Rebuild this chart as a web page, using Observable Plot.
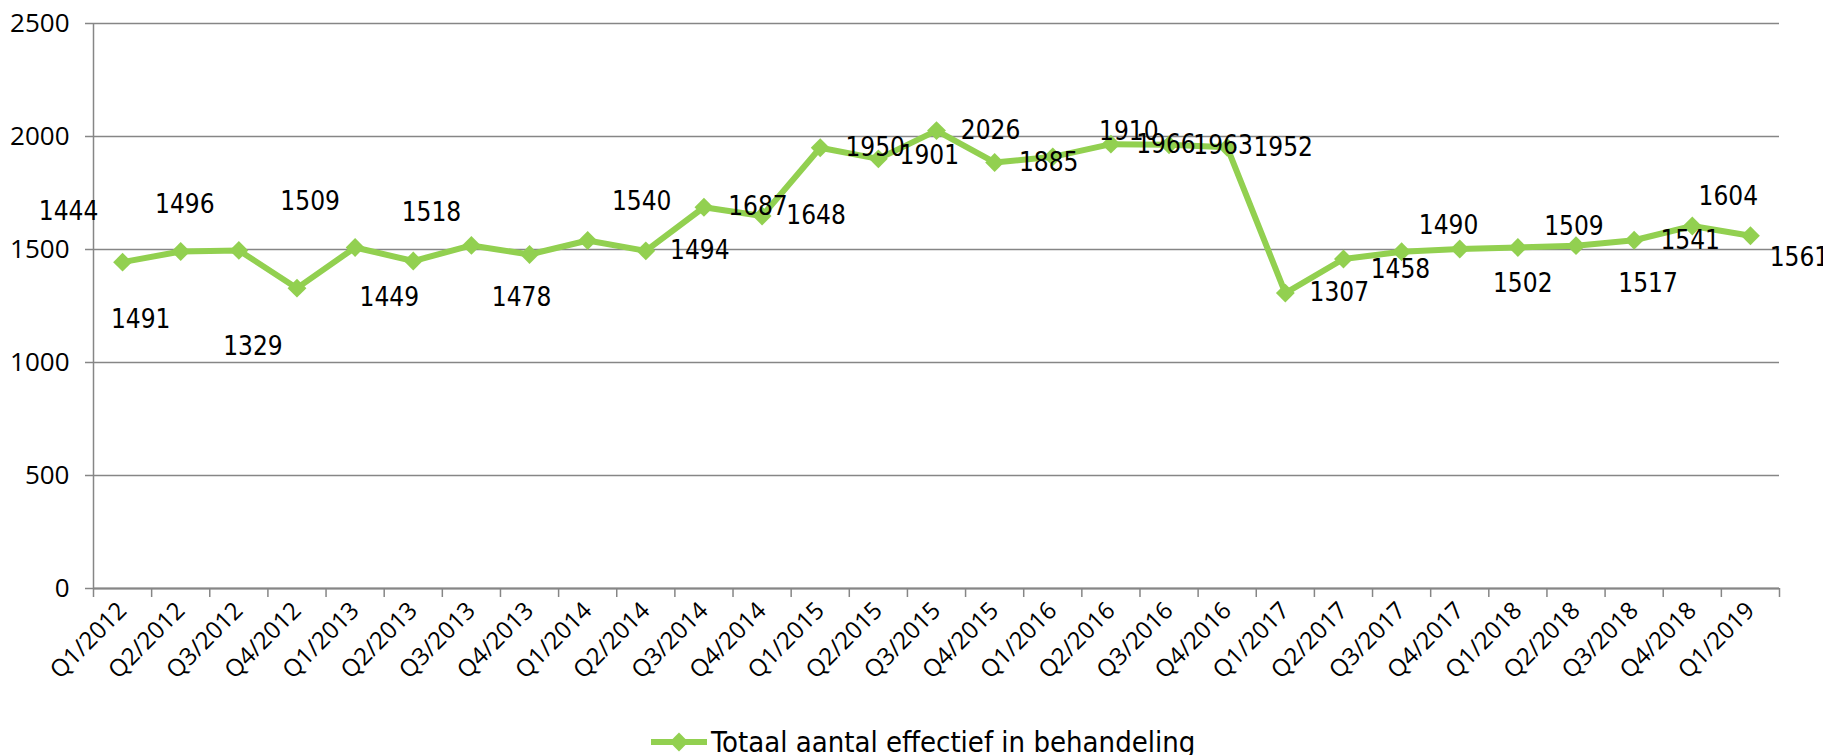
<!DOCTYPE html>
<html>
<head>
<meta charset="utf-8">
<script src="https://cdn.jsdelivr.net/npm/d3@7"></script>
<script src="https://cdn.jsdelivr.net/npm/@observablehq/plot@0.6"></script>
<style>
  html, body { margin: 0; padding: 0; background: #fff; }
  #chart { width: 1823px; }
  #legend { height: 44px; display: flex; align-items: center; padding-left: 650px; box-sizing: border-box;
            font-family: "Liberation Sans Narrow", "DejaVu Sans Condensed", sans-serif; font-size: 29px; color: #000; }
  #legend svg { margin-right: 3px; }
</style>
</head>
<body>
<div id="chart"></div>
<div id="legend"></div>
<script>
const quarters = ["Q1/2012","Q2/2012","Q3/2012","Q4/2012","Q1/2013","Q2/2013","Q3/2013","Q4/2013",
  "Q1/2014","Q2/2014","Q3/2014","Q4/2014","Q1/2015","Q2/2015","Q3/2015","Q4/2015",
  "Q1/2016","Q2/2016","Q3/2016","Q4/2016","Q1/2017","Q2/2017","Q3/2017","Q4/2017",
  "Q1/2018","Q2/2018","Q3/2018","Q4/2018","Q1/2019"];
const values = [1444,1491,1496,1329,1509,1449,1518,1478,1540,1494,1687,1648,1950,1901,2026,1885,
  1910,1966,1963,1952,1307,1458,1490,1502,1509,1517,1541,1604,1561];
const yTicks = [0,500,1000,1500,2000,2500];
const seriesName = "Totaal aantal effectief in behandeling";

// label placement offsets (px) as in the original, styling only
const labelOffsets = [[-54,-50],[-40,68],[-54,-46],[-44,59],[-45,-46],[-24,37],[-40,-33],[-8,43],
  [54,-39],[54,0],[54,-1],[54,0],[55,0],[51,-3],[54,0],[54,0],
  [76,-25],[55,0],[54,1],[56,0],[54,0],[57,11],[47,-26],[63,35],
  [56,-21],[72,38],[56,0],[36,-29],[49,22]];

const green = "#92D050";
const gray = "#868686";
const data = quarters.map((q, i) => ({i, q, v: values[i]}));
const idx = d3.range(quarters.length);
const edges = d3.range(quarters.length + 1).map(k => k - 0.5);
const labelFont = "'Liberation Sans Narrow', 'DejaVu Sans Condensed', sans-serif";

const chart = Plot.plot({
  width: 1823,
  height: 720,
  marginTop: 23,
  marginLeft: 93,
  marginRight: 44,
  marginBottom: 132,
  style: {fontFamily: "'Open Sans', sans-serif", fontSize: "24px", color: "#000", background: "#fff"},
  x: {type: "linear", domain: [-0.5, quarters.length - 0.5]},
  y: {domain: [0, 2500]},
  marks: [
    Plot.gridY(yTicks, {stroke: gray, strokeOpacity: 1, strokeWidth: 1.5}),
    Plot.axisY(yTicks, {tickSize: 8, tickPadding: 16, stroke: gray, strokeWidth: 1.5, fill: "#000", fontSize: 26,
      tickFormat: d => String(d), label: null}),
    Plot.ruleX([-0.5], {stroke: gray, strokeWidth: 1.5}),
    Plot.ruleY([0], {stroke: gray, strokeWidth: 2}),
    Plot.axisX(edges, {tickSize: 9, tickFormat: () => "", stroke: gray, strokeWidth: 1.5, label: null}),
    Plot.axisX(idx, {tickSize: 0, tickPadding: 18, tickRotate: -45, tickFormat: i => quarters[i], fill: "#000", fontSize: 24, label: null}),
    Plot.line(data, {x: "i", y: "v", stroke: green, strokeWidth: 6}),
    Plot.dot(data, {x: "i", y: "v", symbol: "diamond2", r: 8.5, fill: green, stroke: null}),
    ...data.map((d, k) => Plot.text([d], {x: "i", y: "v", text: d => String(d.v),
      dx: labelOffsets[k][0], dy: labelOffsets[k][1], fontSize: 26, fontFamily: labelFont, fill: "#000"}))
  ]
});
document.getElementById("chart").append(chart);

// legend below the chart
const legend = document.getElementById("legend");
const sw = d3.create("svg").attr("width", 58).attr("height", 24);
sw.append("line").attr("x1", 1).attr("x2", 57).attr("y1", 12).attr("y2", 12)
  .attr("stroke", green).attr("stroke-width", 6);
sw.append("path").attr("d", d3.symbol(d3.symbolDiamond2, Math.PI * 8.5 * 8.5)())
  .attr("transform", "translate(29,12)").attr("fill", green);
legend.append(sw.node());
const lt = document.createElement("span");
lt.textContent = seriesName;
legend.append(lt);
</script>
</body>
</html>
